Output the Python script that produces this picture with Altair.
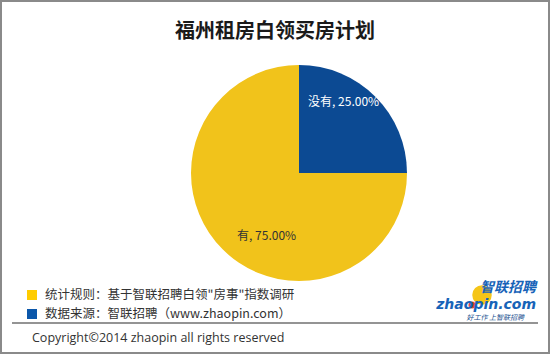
import altair as alt
import pandas as pd

# ---- data ----
categories = ["没有", "有"]
values = [25.0, 75.0]
labels = ["没有, 25.00%", "有, 75.00%"]
order_idx = [0, 1]
slice_colors = ["#0C4A93", "#F1C31B"]

title_text = "福州租房白领买房计划"
note_texts = ["统计规则：基于智联招聘白领\"房事\"指数调研", "数据来源：智联招聘（www.zhaopin.com）"]
note_colors = ["#FFCC00", "#0B57AA"]
copyright_text = "Copyright©2014 zhaopin all rights reserved"

FONT = "Noto Sans CJK SC"
CX, CY, R = 299, 173, 108

df = pd.DataFrame({"category": categories, "value": values, "label": labels, "idx": order_idx})
base = alt.Chart(df)

pie = base.mark_arc(radius=R, stroke=None).encode(
    theta=alt.Theta("value:Q", stack=True),
    color=alt.Color("category:N", scale=alt.Scale(domain=categories, range=slice_colors), legend=None),
    order=alt.Order("idx:Q"),
    x=alt.value(CX), y=alt.value(CY),
)

theta_enc = alt.Theta("value:Q", stack=True)
lbl_blue = base.mark_text(radius=80, font=FONT, fontSize=12, color="white", dx=-12, dy=-14).encode(
    theta=theta_enc, order=alt.Order("idx:Q"), text="label:N",
    x=alt.value(CX), y=alt.value(CY),
    opacity=alt.condition(alt.datum.category == "没有", alt.value(1), alt.value(0)),
)
lbl_yel = base.mark_text(radius=60, font=FONT, fontSize=12, color="#333333", dx=10, dy=21).encode(
    theta=theta_enc, order=alt.Order("idx:Q"), text="label:N",
    x=alt.value(CX), y=alt.value(CY),
    opacity=alt.condition(alt.datum.category == "有", alt.value(1), alt.value(0)),
)

title = alt.Chart(pd.DataFrame({"t": [title_text]})).mark_text(
    font=FONT, fontSize=20, fontWeight="bold", color="#1a1a1a", align="center", baseline="middle"
).encode(text="t:N", x=alt.value(275), y=alt.value(32))

notes_df = pd.DataFrame({"t": note_texts, "c": note_colors, "i": [0, 1]})
note_y = alt.Y("i:Q", scale=alt.Scale(domain=[0, 1], range=[295, 314]), axis=None)
note_sq = alt.Chart(notes_df).mark_square(size=100, opacity=1).encode(
    x=alt.value(32), y=note_y,
    color=alt.Color("c:N", scale=None),
)
note_txt = alt.Chart(notes_df).mark_text(
    font=FONT, fontSize=12.5, color="#333333", align="left", baseline="middle"
).encode(x=alt.value(45), y=note_y, text="t:N")

sep = alt.Chart(pd.DataFrame({"a": [0]})).mark_rule(color="#707070", strokeWidth=1.5).encode(
    x=alt.value(12), x2=alt.value(538), y=alt.value(323)
)
copyright = alt.Chart(pd.DataFrame({"t": [copyright_text]})).mark_text(
    font="Open Sans", fontSize=12.5, color="#333333", align="left", baseline="middle"
).encode(text="t:N", x=alt.value(32), y=alt.value(338))

frame = alt.Chart(pd.DataFrame({"a": [0]})).mark_rect(
    fill=None, stroke="#8a8a8a", strokeWidth=2
).encode(x=alt.value(1), x2=alt.value(549), y=alt.value(1), y2=alt.value(353))

# logo
logo_dot = alt.Chart(pd.DataFrame({"a": [0]})).mark_circle(size=380, color="#F5C518", opacity=1).encode(
    x=alt.value(482), y=alt.value(295)
)
logo_dot2 = alt.Chart(pd.DataFrame({"a": [0]})).mark_circle(size=50, color="#E2452B", opacity=1).encode(
    x=alt.value(472), y=alt.value(305)
)
logo_cn = alt.Chart(pd.DataFrame({"t": ["智联招聘"]})).mark_text(
    font=FONT, fontSize=14, fontStyle="italic", fontWeight="bold", color="#1763B8", align="right", baseline="middle"
).encode(text="t:N", x=alt.value(536), y=alt.value(288))
logo_en = alt.Chart(pd.DataFrame({"t": ["zhaopin.com"]})).mark_text(
    font="DejaVu Sans", fontSize=14, fontStyle="italic", fontWeight="bold", color="#1763B8", align="right", baseline="middle"
).encode(text="t:N", x=alt.value(536), y=alt.value(305))
logo_sub = alt.Chart(pd.DataFrame({"t": ["好工作  上智联招聘"]})).mark_text(
    font=FONT, fontSize=7, fontStyle="italic", color="#1a4f8f", align="right", baseline="middle"
).encode(text="t:N", x=alt.value(524), y=alt.value(318))

chart = alt.layer(
    frame, title, pie, lbl_blue, lbl_yel, note_sq, note_txt, sep, copyright,
    logo_dot, logo_dot2, logo_cn, logo_en, logo_sub
).properties(
    width=550, height=354, padding=0, autosize=alt.AutoSizeParams(type="none"), background="white"
).configure_view(stroke=None)

chart.save("out.html", embed_options={"renderer": "svg", "actions": False})
